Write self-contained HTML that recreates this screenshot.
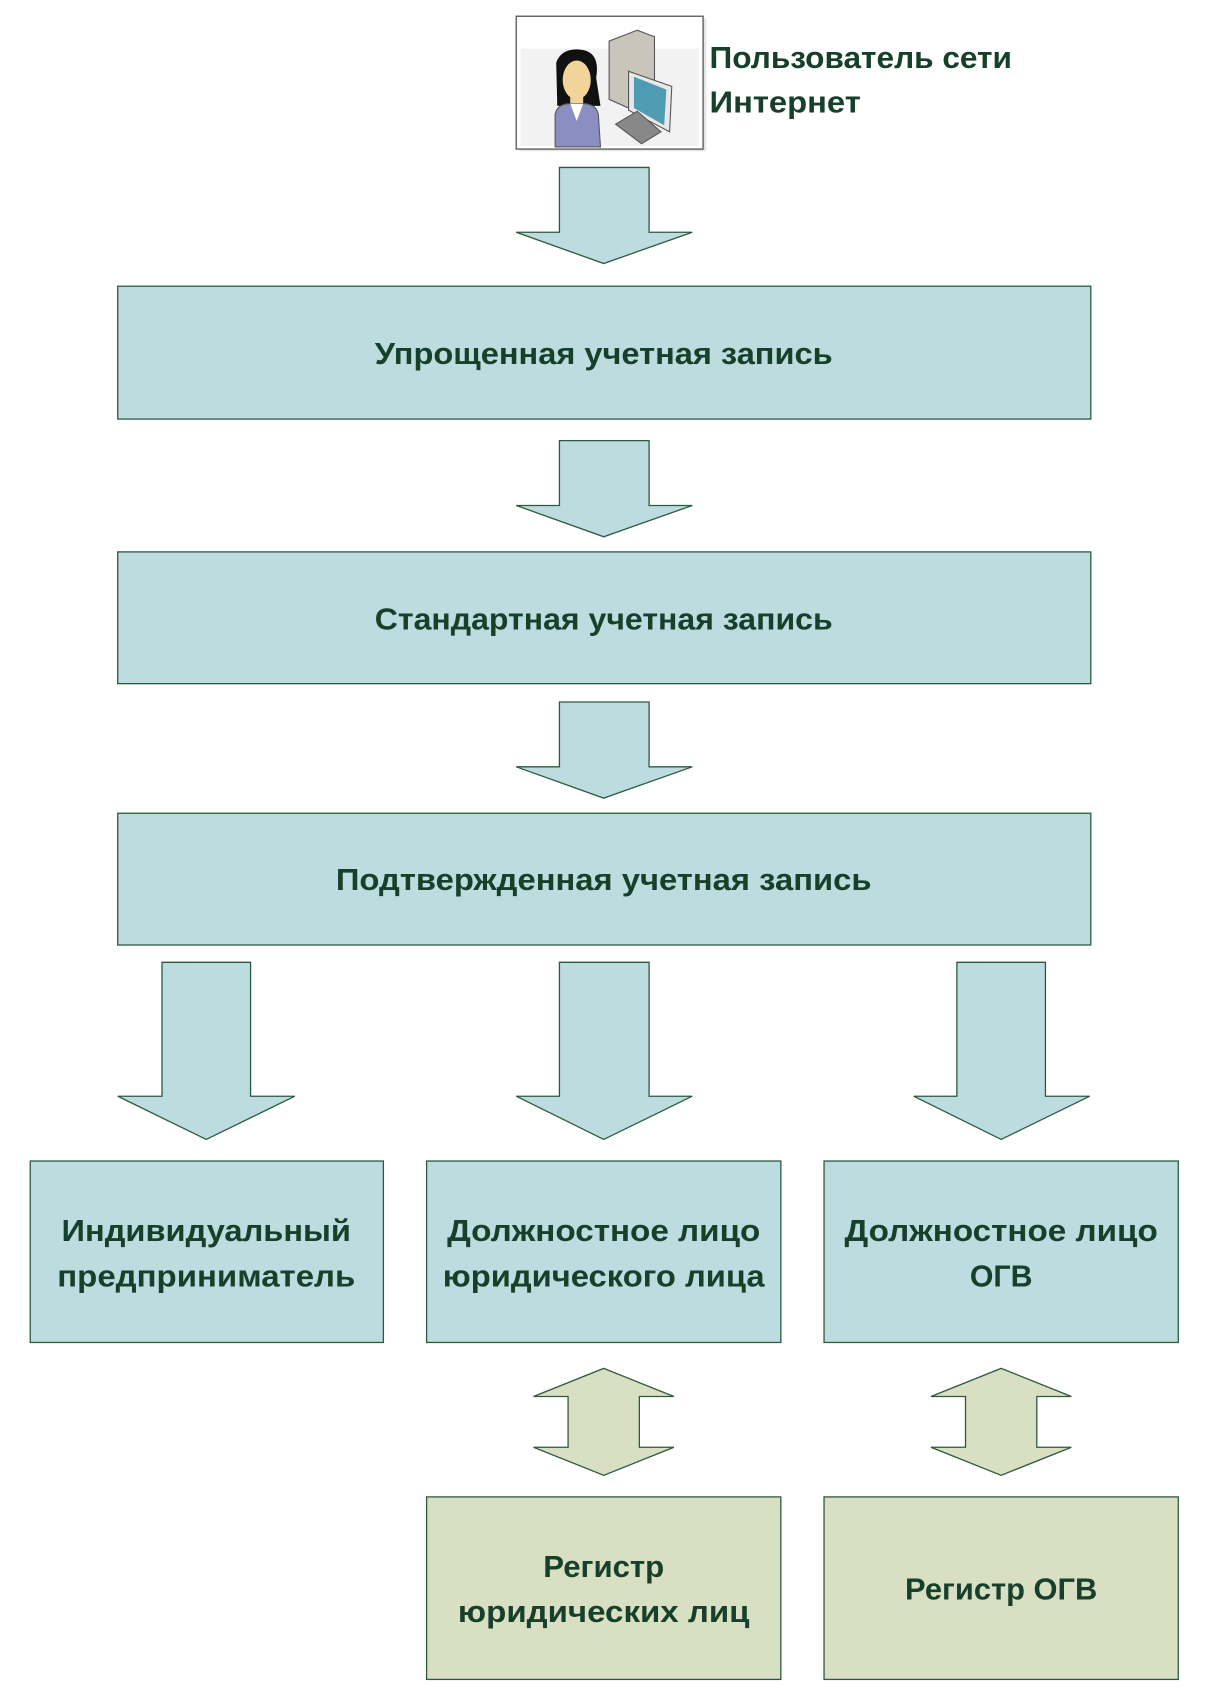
<!DOCTYPE html>
<html><head><meta charset="utf-8"><style>
html,body{margin:0;padding:0;background:#fff;}
svg{display:block}
text{font-family:"Liberation Sans","DejaVu Sans",sans-serif;font-weight:bold;fill:#17402a;font-size:28px;}
</style></head><body>
<svg width="1215" height="1695" viewBox="0 0 1125 1569.4" xmlns="http://www.w3.org/2000/svg">
<g stroke="#2d5a3c" stroke-width="1.2">
<rect x="481" y="17" width="173" height="123" fill="#e6e6e6" stroke="none"/>
<rect x="478" y="15" width="173" height="123" fill="#fff" stroke="#555"/>
<rect x="482" y="45" width="165" height="90" fill="#f2f2f2" stroke="none"/>
</g>
<polygon points="564,38 590,28 606,34 606,92 582,100 564,92" fill="#c9c5bb" stroke="#555" stroke-width="1"/>
<polygon points="582,66 622,80 620,122 582,102" fill="#e8e8e8" stroke="#555" stroke-width="1"/>
<polygon points="587,71 617,83 615,116 587,100" fill="#4f9cb2"/>
<polygon points="570,115 590,103 612,122 594,133" fill="#888" stroke="#555" stroke-width="1"/>
<path d="M515,58 Q520,44 538,46 Q556,48 552,72 L556,98 L516,98 Z" fill="#111"/>
<ellipse cx="534" cy="74" rx="13" ry="18" fill="#f2d49a"/>
<rect x="528" y="88" width="12" height="12" fill="#f2d49a"/>
<path d="M514,136 L514,106 Q516,96 528,96 L540,96 Q552,96 554,106 L556,136 Z" fill="#8a8ec0" stroke="#555" stroke-width="1"/>
<polygon points="528,96 534,112 540,96" fill="#fff"/>
<text x="657" y="63" textLength="280" lengthAdjust="spacingAndGlyphs">Пользователь сети</text>
<text x="657" y="104" textLength="140" lengthAdjust="spacingAndGlyphs">Интернет</text>
<g stroke="#2d5a3c" stroke-width="1.2" fill="#bcdce0">
<polygon points="518,155 601,155 601,215 641,215 559,244 478,215 518,215"/>
<rect x="109" y="265" width="901" height="123"/>
<polygon points="518,408 601,408 601,468 641,468 559,497 478,468 518,468"/>
<rect x="109" y="511" width="901" height="122"/>
<polygon points="518,650 601,650 601,710 641,710 559,739 478,710 518,710"/>
<rect x="109" y="753" width="901" height="122"/>
<polygon points="150,891 232,891 232,1015 273,1015 191,1055 109,1015 150,1015"/>
<polygon points="518,891 601,891 601,1015 641,1015 559,1055 478,1015 518,1015"/>
<polygon points="886,891 968,891 968,1015 1009,1015 927,1055 846,1015 886,1015"/>
<rect x="28" y="1075" width="327" height="168"/>
<rect x="395" y="1075" width="328" height="168"/>
<rect x="763" y="1075" width="328" height="168"/>
</g>
<g stroke="#2d5a3c" stroke-width="1.2" fill="#d9dfc3">
<polygon points="559,1267 624,1293 592,1293 592,1340 624,1340 559,1366 494,1340 526,1340 526,1293 494,1293"/>
<polygon points="927,1267 992,1293 960,1293 960,1340 992,1340 927,1366 862,1340 894,1340 894,1293 862,1293"/>
<rect x="395" y="1386" width="328" height="169"/>
<rect x="763" y="1386" width="328" height="169"/>
</g>
<g text-anchor="middle">
<text x="559" y="337" textLength="424" lengthAdjust="spacingAndGlyphs">Упрощенная учетная запись</text>
<text x="559" y="583" textLength="424" lengthAdjust="spacingAndGlyphs">Стандартная учетная запись</text>
<text x="559" y="824" textLength="496" lengthAdjust="spacingAndGlyphs">Подтвержденная учетная запись</text>
<text x="191" y="1149" textLength="268" lengthAdjust="spacingAndGlyphs">Индивидуальный</text>
<text x="191" y="1191" textLength="276" lengthAdjust="spacingAndGlyphs">предприниматель</text>
<text x="559" y="1149" textLength="290" lengthAdjust="spacingAndGlyphs">Должностное лицо</text>
<text x="559" y="1191" textLength="298" lengthAdjust="spacingAndGlyphs">юридического лица</text>
<text x="927" y="1149" textLength="290" lengthAdjust="spacingAndGlyphs">Должностное лицо</text>
<text x="927" y="1191" textLength="58" lengthAdjust="spacingAndGlyphs">ОГВ</text>
<text x="559" y="1460" textLength="112" lengthAdjust="spacingAndGlyphs">Регистр</text>
<text x="559" y="1502" textLength="270" lengthAdjust="spacingAndGlyphs">юридических лиц</text>
<text x="927" y="1481" textLength="178" lengthAdjust="spacingAndGlyphs">Регистр ОГВ</text>
</g>
</svg>
</body></html>
